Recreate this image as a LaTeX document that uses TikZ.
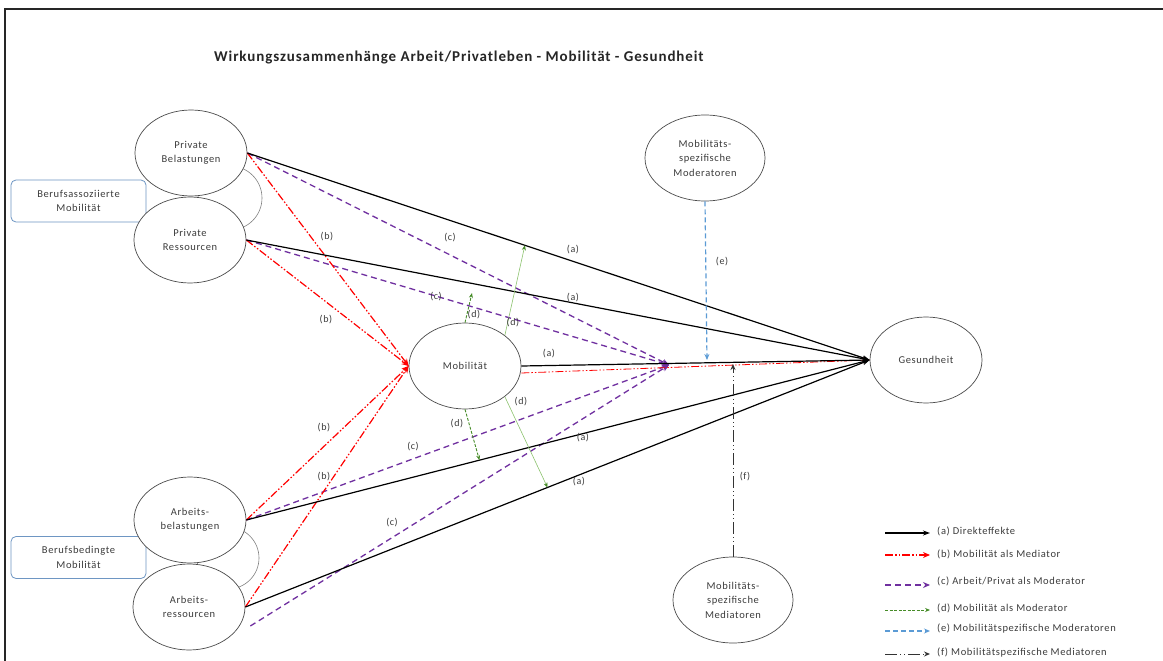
\documentclass[tikz,border=0pt]{standalone}
\usepackage{fontspec}
\setmainfont{Carlito}
\newfontfamily\spfont[LetterSpace=6]{Carlito}
\usetikzlibrary{shapes.geometric,arrows.meta,calc}
\definecolor{rd}{RGB}{255,0,0}
\definecolor{pu}{RGB}{112,48,160}
\definecolor{grd}{RGB}{70,140,40}
\definecolor{grl}{RGB}{140,195,110}
\definecolor{bl}{RGB}{91,155,213}
\definecolor{bx}{RGB}{110,150,195}
\definecolor{el}{RGB}{75,75,75}
\definecolor{tx}{RGB}{60,60,60}
\begin{document}
\begin{tikzpicture}[x=1pt,y=-1pt,
  ell/.style={ellipse,draw=el,fill=white,line width=0.7pt,minimum width=112pt,minimum height=86pt,inner sep=0pt,align=center,font=\spfont\fontsize{10.5}{14.5}\selectfont,text=tx},
  bigell/.style={ell,minimum width=120pt},
  boxn/.style={draw=bx,rounded corners=5pt,line width=0.8pt,minimum width=135pt,minimum height=42pt,inner sep=0pt,align=center,font=\spfont\fontsize{10.5}{14.5}\selectfont,text=tx,fill=white},
  lab/.style={font=\spfont\fontsize{10}{11}\selectfont,text=tx,inner sep=0pt},
  legt/.style={font=\spfont\fontsize{10.5}{11}\selectfont,text=tx,inner sep=0pt,anchor=west},
  aline/.style={draw=black,line width=1.2pt,-{Stealth[length=7pt,width=5pt]}},
  bline/.style={draw=rd,line width=1.2pt,dash pattern=on 8pt off 2pt on 1.5pt off 2pt on 1.5pt off 2pt,-{Stealth[length=7pt,width=6pt]}},
  bthin/.style={bline,line width=0.8pt},
  cline/.style={draw=pu,line width=1.3pt,dash pattern=on 6pt off 4pt,-{Stealth[length=7pt,width=6pt]}},
  dthin/.style={draw=grl,line width=0.6pt,-{Stealth[length=5pt,width=4pt,color=grd]}},
  dshort/.style={draw=grd,line width=0.9pt,dash pattern=on 3pt off 1.5pt,-{Stealth[length=5pt,width=4pt]}},
  eline/.style={draw=bl,line width=1.2pt,dash pattern=on 5pt off 3pt,-{Stealth[length=6pt,width=5pt]}},
  fline/.style={draw=black!80,line width=1pt,dash pattern=on 12pt off 3pt on 1pt off 3pt on 1pt off 3pt,-{Stealth[length=6pt,width=5pt]}}
]
\useasboundingbox (0,0) rectangle (1163,661);
\fill[white] (0,0) rectangle (1163,661);
% frame
\draw[line width=2.4pt,black!85] (5,700) -- (5,9) -- (1200,9);

% title
\node[font=\spfont\bfseries\fontsize{15}{18}\selectfont,anchor=west,text=black!85,inner sep=0pt] (title) at (214,58) {Wirkungszusammenhänge Arbeit/Privatleben - Mobilität - Gesundheit};

% connecting arcs
\draw[el!70,line width=0.6pt] (230,198) circle (32);
\draw[el!70,line width=0.6pt] (228,558) circle (31);

% boxes
\node[boxn] (box1) at (78.5,201) {Berufsassoziierte\\Mobilität};
\node[boxn] (box2) at (78.5,557.5) {Berufsbedingte\\Mobilität};

% ellipses
\node[ell] (pb) at (191,153) {Private\\Belastungen};
\node[ell] (pr) at (190,240) {Private\\Ressourcen};
\node[ell] (ab) at (190,520) {Arbeits-\\belastungen};
\node[ell] (ar) at (189,607) {Arbeits-\\ressourcen};
\node[ell] (mob) at (465,366) {Mobilität};
\node[ell] (ges) at (926,360) {Gesundheit};
\node[bigell] (mod) at (705,158) {Mobilitäts-\\spezifische\\Moderatoren};
\node[bigell] (med) at (733,600) {Mobilitäts-\\spezifische\\Mediatoren};

% coordinates
\coordinate (cpt) at (669,365);
\coordinate (d1e) at (472,293);
\coordinate (eend) at (707,360);
\coordinate (fend) at (733,364);

% (c) purple
\draw[cline] (pb.east) -- (cpt);
\draw[cline] (pr.east) -- (cpt);
\draw[cline] (ab.east) -- (cpt);
\draw[cline] ($(ar.east)+(5,19)$) -- (cpt);

% (b) red
\draw[bline] (pb.east) -- (mob.west);
\draw[bline] (pr.east) -- (mob.west);
\draw[bline] (ab.east) -- (mob.west);
\draw[bline] (ar.east) -- (mob.west);
\draw[bthin] ($(mob.east)+(0,7)$) -- (ges.west);

% (a) black
\draw[aline] (pb.east) -- (ges.west);
\draw[aline] (pr.east) -- (ges.west);
\draw[aline] (mob.east) -- (ges.west);
\draw[aline] (ab.east) -- (ges.west);
\draw[aline] (ar.east) -- (ges.west);

% (d) green
\draw[dshort] (mob.north) -- (d1e);
\draw[dthin] (mob.north east) -- ($(pb.east)!0.446!(ges.west)$);
\draw[dshort] (mob.south) -- ($(ab.east)!0.374!(ges.west)$);
\draw[dthin] (mob.south east) -- ($(ar.east)!0.484!(ges.west)$);

% (e), (f)
\draw[eline] (mod.south) -- (eend);
\draw[fline] (med.north) -- (fend);

% labels
\node[lab] (lb1) at (327,237) {(b)};
\node[lab] (lb2) at (326,320) {(b)};
\node[lab] (lb3) at (324,428) {(b)};
\node[lab] (lb4) at (324,477) {(b)};
\node[lab] (lc1) at (450,238) {(c)};
\node[lab] (lc2) at (436,297) {(c)};
\node[lab] (lc3) at (413,447) {(c)};
\node[lab] (lc4) at (392,523) {(c)};
\node[lab] (la1) at (573,250) {(a)};
\node[lab] (la2) at (573,298) {(a)};
\node[lab] (la3) at (549,354) {(a)};
\node[lab] (la4) at (583,438) {(a)};
\node[lab] (la5) at (579,482) {(a)};
\node[lab] (ld1) at (474,315) {(d)};
\node[lab] (ld2) at (513,323) {(d)};
\node[lab] (ld3) at (457,424) {(d)};
\node[lab] (ld4) at (521,402) {(d)};
\node[lab] (le) at (722,262) {(e)};
\node[lab] (lf) at (745,477) {(f)};

% legend
\coordinate (g1a) at (885,533); \coordinate (g1b) at (930,533);
\coordinate (g2a) at (885,555); \coordinate (g2b) at (930,555);
\coordinate (g3a) at (885,585); \coordinate (g3b) at (930,585);
\coordinate (g4a) at (885,610); \coordinate (g4b) at (930,610);
\coordinate (g5a) at (885,631); \coordinate (g5b) at (930,631);
\coordinate (g6a) at (885,654); \coordinate (g6b) at (930,654);
\draw[aline] (g1a) -- (g1b);
\draw[bline] (g2a) -- (g2b);
\draw[cline] (g3a) -- (g3b);
\draw[dshort] (g4a) -- (g4b);
\draw[eline] (g5a) -- (g5b);
\draw[fline] (g6a) -- (g6b);
\node[legt] (t1) at (937,531) {(a) Direkteffekte};
\node[legt] (t2) at (937,554) {(b) Mobilität als Mediator};
\node[legt] (t3) at (937,581) {(c) Arbeit/Privat als Moderator};
\node[legt] (t4) at (937,608) {(d) Mobilität als Moderator};
\node[legt] (t5) at (937,629) {(e) Mobilitätspezifische Moderatoren};
\node[legt] (t6) at (937,653) {(f) Mobilitätspezifische Mediatoren};
\end{tikzpicture}
\end{document}
